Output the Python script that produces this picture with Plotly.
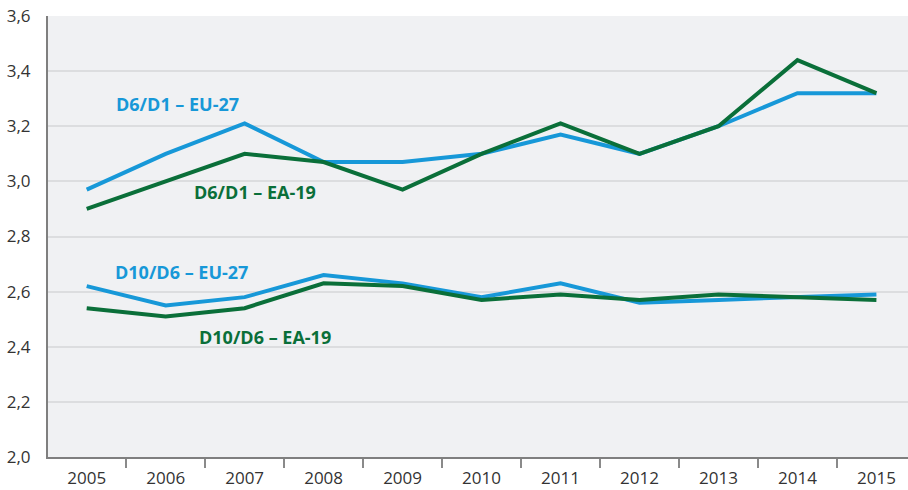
import plotly.graph_objects as go

years = ["2005", "2006", "2007", "2008", "2009", "2010", "2011", "2012", "2013", "2014", "2015"]
d6d1_eu27 = [2.97, 3.10, 3.21, 3.07, 3.07, 3.10, 3.17, 3.10, 3.20, 3.32, 3.32]
d6d1_ea19 = [2.90, 3.00, 3.10, 3.07, 2.97, 3.10, 3.21, 3.10, 3.20, 3.44, 3.32]
d10d6_eu27 = [2.62, 2.55, 2.58, 2.66, 2.63, 2.58, 2.63, 2.56, 2.57, 2.58, 2.59]
d10d6_ea19 = [2.54, 2.51, 2.54, 2.63, 2.62, 2.57, 2.59, 2.57, 2.59, 2.58, 2.57]

BLUE = "#1798d8"
GREEN = "#0a6f39"

series = [
    ("D6/D1 – EU-27", d6d1_eu27, BLUE, 1.156, 3.281),
    ("D6/D1 – EA-19", d6d1_ea19, GREEN, 2.137, 2.963),
    ("D10/D6 – EU-27", d10d6_eu27, BLUE, 1.206, 2.672),
    ("D10/D6 – EA-19", d10d6_ea19, GREEN, 2.257, 2.436),
]

fig = go.Figure()
for name, vals, color, _, _ in series:
    fig.add_trace(go.Scatter(
        x=years, y=vals, mode="lines", name=name,
        line=dict(color=color, width=4), showlegend=False,
    ))

for name, vals, color, ax, ay in series:
    fig.add_annotation(
        x=ax, y=ay, xref="x", yref="y", text=f"<b>{name}</b>",
        showarrow=False, font=dict(family="Open Sans", size=18, color=color),
        xanchor="center", yanchor="middle",
    )

fig.update_layout(
    width=908, height=490,
    margin=dict(l=48, r=0, t=16, b=33),
    paper_bgcolor="white",
    plot_bgcolor="#f0f1f3",
    separators=",.",
    font=dict(family="Open Sans", size=17, color="#333333"),
)
fig.update_xaxes(
    type="category", range=[-0.49, 10.4],
    tickson="boundaries", ticks="outside", ticklen=9, tickwidth=1.5,
    tickcolor="#8a8a8a", showgrid=False,
    showline=True, linecolor="#7f7f7f", linewidth=2,
    ticklabelstandoff=5,
    tickfont=dict(size=17, color="#333333"),
)
fig.update_yaxes(
    range=[2.0, 3.6], dtick=0.2, tickformat=".1f",
    showgrid=True, gridcolor="#dcdddf", gridwidth=1.5,
    zeroline=False, showline=True, linecolor="#7f7f7f", linewidth=2,
    ticks="", ticklabelstandoff=12,
    tickfont=dict(size=17, color="#333333"),
)

fig.write_html("out.html")
